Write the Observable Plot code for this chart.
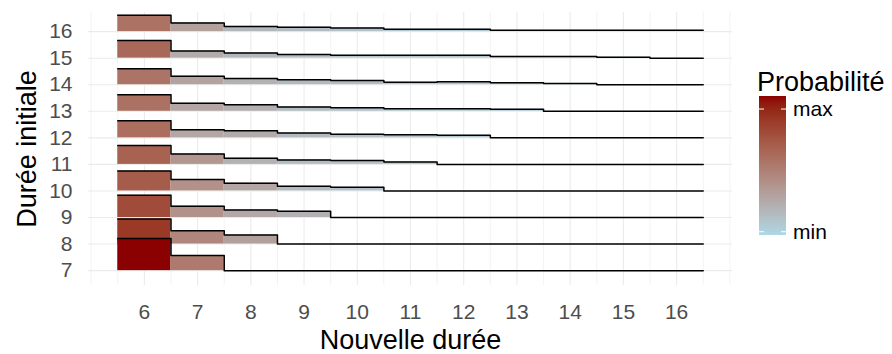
<!DOCTYPE html>
<html><head><meta charset="utf-8">
<script src="https://cdn.jsdelivr.net/npm/d3@7"></script>
<script src="https://cdn.jsdelivr.net/npm/@observablehq/plot@0.6"></script>
<style>
html,body{margin:0;padding:0;background:#fff;}
#chart{width:892px;height:354px;overflow:hidden;}
</style></head><body><div id="chart"></div>
<script>
// Nouvelle durée (x) and durée initiale (ridges)
const nouvelleDuree = [6, 7, 8, 9, 10, 11, 12, 13, 14, 15, 16];
const dureeInitiale = [7, 8, 9, 10, 11, 12, 13, 14, 15, 16];
// probability of each new duration, one array per initial duration
const p7  = [0.68, 0.32, 0, 0, 0, 0, 0, 0, 0, 0, 0];
const p8  = [0.53, 0.28, 0.19, 0, 0, 0, 0, 0, 0, 0, 0];
const p9  = [0.47, 0.24, 0.16, 0.13, 0, 0, 0, 0, 0, 0, 0];
const p10 = [0.42, 0.24, 0.165, 0.10, 0.076, 0, 0, 0, 0, 0, 0];
const p11 = [0.40, 0.22, 0.13, 0.095, 0.08, 0.053, 0, 0, 0, 0, 0];
const p12 = [0.36, 0.17, 0.15, 0.10, 0.075, 0.068, 0.053, 0, 0, 0, 0];
const p13 = [0.35, 0.17, 0.14, 0.09, 0.075, 0.055, 0.055, 0.042, 0, 0, 0];
const p14 = [0.34, 0.18, 0.13, 0.105, 0.09, 0.05, 0.063, 0.042, 0.025, 0, 0];
const p15 = [0.375, 0.15, 0.11, 0.08, 0.06, 0.06, 0.06, 0.038, 0.038, 0.021, 0];
const p16 = [0.345, 0.185, 0.11, 0.095, 0.075, 0.05, 0.05, 0.028, 0.028, 0.028, 0.028];
// grid positions and legend
const xMinorGrid = [5, 5.5, 6.5, 7.5, 8.5, 9.5, 10.5, 11.5, 12.5, 13.5, 14.5, 15.5, 16.5, 17];
const legendBreaks = [0.015, 0.58];
const legendLabels = ["min", "max"];
const colorDomain = [0, 0.64];

const probs = {7: p7, 8: p8, 9: p9, 10: p10, 11: p11, 12: p12, 13: p13, 14: p14, 15: p15, 16: p16};
const K = 1.78; // ridge height scale (y units per unit probability)

const rows = dureeInitiale.flatMap(k => nouvelleDuree.map((x, i) => ({init: k, x, p: probs[k][i]})));
const steps = rows.flatMap(d => [
  {init: d.init, x: d.x - 0.5, top: d.init + d.p * K},
  {init: d.init, x: d.x + 0.5, top: d.init + d.p * K}
]);

const ridgeMarks = [...dureeInitiale].reverse().flatMap(k => [
  Plot.rect(rows.filter(d => d.init === k && d.p > 0), {
    x1: d => d.x - 0.5, x2: d => d.x + 0.5, y1: "init", y2: d => d.init + d.p * K, fill: "p"
  }),
  Plot.line(steps.filter(d => d.init === k), {x: "x", y: "top", stroke: "#000", strokeWidth: 1.5})
]);

const colorOpts = {type: "linear", domain: colorDomain, range: ["lightblue", "darkred"], interpolate: "lab", clamp: true};

const plot = Plot.plot({
  width: 892, height: 354,
  marginLeft: 88, marginRight: 160, marginTop: 12, marginBottom: 69,
  x: {domain: [4.95, 17.05], ticks: nouvelleDuree, tickSize: 0, tickPadding: 19, label: null, tickFormat: d => String(d)},
  y: {domain: [6.44, 16.72], ticks: dureeInitiale, tickSize: 0, tickPadding: 16, label: null, tickFormat: d => String(d)},
  color: colorOpts,
  style: {fontFamily: "'Liberation Sans', Arial, sans-serif", fontSize: "21px", color: "#4d4d4d", background: "#fff"},
  marks: [
    Plot.ruleX(xMinorGrid, {stroke: "#ebebeb", strokeWidth: 0.6}),
    Plot.ruleX(nouvelleDuree, {stroke: "#ebebeb", strokeWidth: 1.1}),
    Plot.ruleY(dureeInitiale, {stroke: "#ebebeb", strokeWidth: 1.1}),
    ...ridgeMarks,
    Plot.text(["Nouvelle durée"], {text: d => d, frameAnchor: "bottom", lineAnchor: "middle", dy: 55, fontSize: 27, fill: "#000"}),
    Plot.text(["Durée initiale"], {text: d => d, frameAnchor: "left", textAnchor: "middle", lineAnchor: "middle", dx: -61, rotate: -90, fontSize: 27, fill: "#000"})
  ]
});
document.getElementById("chart").appendChild(plot);

// colour-bar legend built from the same colour scale
const cscale = Plot.scale({color: colorOpts});
const svg = d3.select(plot);
const bar = {x: 759, y: 96, w: 27, h: 139};
const defs = svg.append("defs");
const grad = defs.append("linearGradient").attr("id", "probgrad")
  .attr("x1", 0).attr("y1", 1).attr("x2", 0).attr("y2", 0);
d3.range(0, 1.0001, 0.05).forEach(t => {
  const v = colorDomain[0] + t * (colorDomain[1] - colorDomain[0]);
  grad.append("stop").attr("offset", t).attr("stop-color", cscale.apply(v));
});
const lg = svg.append("g").attr("text-anchor", "start");
lg.append("text").attr("x", 757).attr("y", 91).attr("font-size", 27).attr("fill", "#000").text("Probabilité");
lg.append("rect").attr("x", bar.x).attr("y", bar.y).attr("width", bar.w).attr("height", bar.h).attr("fill", "url(#probgrad)");
const ly = d3.scaleLinear().domain(colorDomain).range([bar.y + bar.h, bar.y]);
legendBreaks.forEach((b, i) => {
  const yy = ly(b);
  lg.append("line").attr("x1", bar.x).attr("x2", bar.x + 5).attr("y1", yy).attr("y2", yy).attr("stroke", "#fff").attr("stroke-width", 1);
  lg.append("line").attr("x1", bar.x + bar.w - 5).attr("x2", bar.x + bar.w).attr("y1", yy).attr("y2", yy).attr("stroke", "#fff").attr("stroke-width", 1);
  lg.append("text").attr("x", bar.x + bar.w + 7).attr("y", yy).attr("dy", "0.35em")
    .attr("font-size", 21).attr("fill", "#000").text(legendLabels[i]);
});
</script></body></html>
